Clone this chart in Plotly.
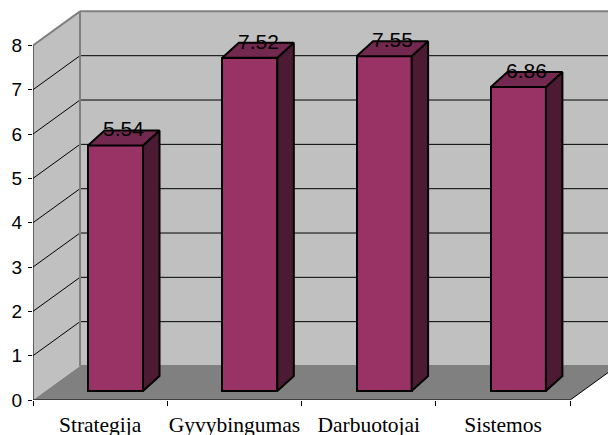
import plotly.graph_objects as go

# Chart data
categories = ["Strategija", "Gyvybingumas", "Darbuotojai", "Sistemos"]
values = [5.54, 7.52, 7.55, 6.86]
y_ticks = [0, 1, 2, 3, 4, 5, 6, 7, 8]

# Pseudo-3D geometry, expressed in axis units
X_MAX = 4.2815          # right edge of the plotting region
Y_MAX = 8.798           # top edge of the plotting region
WALL_DX, WALL_DY = 0.35, 0.767     # depth of the back wall
BAR_LIFT_Y = 0.203      # front faces sit slightly behind the floor edge
BAR_LEFT = 0.4095       # left edge of a bar front inside its category
BAR_W = 0.4095          # front-face width
BAR_DX, BAR_DY = 0.123, 0.338      # depth of each bar

FRONT = "#993366"
TOP = "#73284F"
SIDE = "#4C1A33"
WALL = "#C0C0C0"
FLOOR = "#808080"
EDGE = "#808080"

fig = go.Figure()
shapes = []


def poly(points):
    return "M " + " L ".join(f"{x},{y}" for x, y in points) + " Z"


n_cat = len(categories)
top_lvl = y_ticks[-1]

# Side wall, back wall and floor
shapes.append(dict(type="path", layer="below", xref="x", yref="y",
                   path=poly([(0, 0), (0, top_lvl), (WALL_DX, top_lvl + WALL_DY), (WALL_DX, WALL_DY)]),
                   fillcolor=WALL, line=dict(width=0)))
shapes.append(dict(type="path", layer="below", xref="x", yref="y",
                   path=poly([(WALL_DX, WALL_DY), (WALL_DX, top_lvl + WALL_DY),
                              (n_cat + WALL_DX, top_lvl + WALL_DY), (n_cat + WALL_DX, WALL_DY)]),
                   fillcolor=WALL, line=dict(width=0)))
shapes.append(dict(type="path", layer="below", xref="x", yref="y",
                   path=poly([(0, 0), (WALL_DX, WALL_DY), (n_cat + WALL_DX, WALL_DY), (n_cat, 0)]),
                   fillcolor=FLOOR, line=dict(width=0)))

# Gridlines on both walls
for k in y_ticks[1:-1]:
    shapes.append(dict(type="line", layer="below", xref="x", yref="y",
                       x0=WALL_DX, y0=k + WALL_DY, x1=n_cat + WALL_DX, y1=k + WALL_DY,
                       line=dict(color="black", width=1)))
    shapes.append(dict(type="line", layer="below", xref="x", yref="y",
                       x0=0, y0=k, x1=WALL_DX, y1=k + WALL_DY,
                       line=dict(color="black", width=1)))

# Wall borders
for (x0, y0, x1, y1) in [(0, top_lvl, WALL_DX, top_lvl + WALL_DY),
                         (WALL_DX, WALL_DY, WALL_DX, top_lvl + WALL_DY),
                         (WALL_DX, top_lvl + WALL_DY, n_cat + WALL_DX, top_lvl + WALL_DY),
                         (WALL_DX, WALL_DY, n_cat + WALL_DX, WALL_DY)]:
    shapes.append(dict(type="line", layer="below", xref="x", yref="y",
                       x0=x0, y0=y0, x1=x1, y1=y1, line=dict(color=EDGE, width=2)))

# Floor outline and value axis line
for (x0, y0, x1, y1) in [(0, 0, n_cat, 0), (n_cat, 0, n_cat + WALL_DX, WALL_DY), (0, 0, 0, top_lvl)]:
    shapes.append(dict(type="line", layer="below", xref="x", yref="y",
                       x0=x0, y0=y0, x1=x1, y1=y1, line=dict(color="black", width=1)))

# Front faces of the bars
centers = [i + BAR_LEFT + BAR_W / 2 for i in range(n_cat)]
fig.add_trace(go.Bar(
    x=centers, y=values, base=[BAR_LIFT_Y] * n_cat, width=BAR_W,
    marker=dict(color=FRONT, line=dict(color="black", width=2)),
    hoverinfo="skip", showlegend=False,
))

# Side and top faces
for c, v in zip(centers, values):
    xl, xr = c - BAR_W / 2, c + BAR_W / 2
    yb, yt = BAR_LIFT_Y, BAR_LIFT_Y + v
    side = [(xr, yb), (xr, yt), (xr + BAR_DX, yt + BAR_DY), (xr + BAR_DX, yb + BAR_DY), (xr, yb)]
    top = [(xl, yt), (xr, yt), (xr + BAR_DX, yt + BAR_DY), (xl + BAR_DX, yt + BAR_DY), (xl, yt)]
    for pts, col in [(side, SIDE), (top, TOP)]:
        fig.add_trace(go.Scatter(
            x=[p[0] for p in pts], y=[p[1] for p in pts], mode="lines",
            fill="toself", fillcolor=col, line=dict(color="black", width=2),
            hoverinfo="skip", showlegend=False,
        ))

# Value labels above each bar
annotations = []
for c, v in zip(centers, values):
    annotations.append(dict(
        x=c + BAR_DX / 2, y=BAR_LIFT_Y + v + BAR_DY / 2, xref="x", yref="y",
        text=f"{v:.2f}", showarrow=False, yanchor="middle", yshift=9,
        font=dict(family="Liberation Sans, Arial", size=21, color="black"),
    ))

fig.update_layout(
    width=608, height=435,
    margin=dict(l=33, r=0, t=10, b=35),
    paper_bgcolor="white", plot_bgcolor="white",
    shapes=shapes, annotations=annotations,
    bargap=0,
    xaxis=dict(
        range=[0, X_MAX], showgrid=False, zeroline=False, showline=False,
        automargin=False,
        tickmode="array", tickvals=[i + 0.5 for i in range(n_cat)], ticktext=categories,
        ticks="", ticklabelstandoff=9,
        tickfont=dict(family="Liberation Serif, Times New Roman", size=21.5, color="black"),
        minor=dict(tickmode="array", tickvals=list(range(n_cat + 1)), ticks="outside",
                   ticklen=5, tickcolor="black", tickwidth=1),
        fixedrange=True,
    ),
    yaxis=dict(
        range=[0, Y_MAX], showgrid=False, zeroline=False, showline=False,
        automargin=False,
        tickmode="array", tickvals=y_ticks, ticks="outside", ticklen=4,
        tickcolor="black", tickwidth=1, ticklabelstandoff=2,
        tickfont=dict(family="Liberation Sans, Arial", size=19, color="black"),
        fixedrange=True,
    ),
)

fig.write_html("out.html")
